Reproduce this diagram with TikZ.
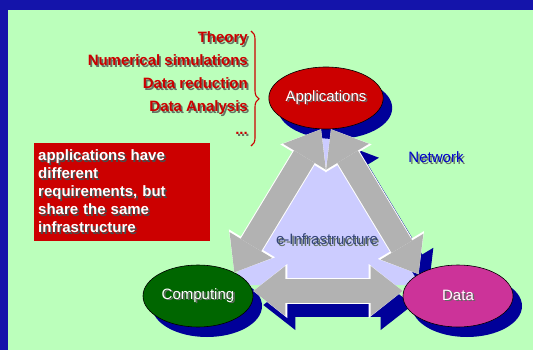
\documentclass[tikz,border=0pt]{standalone}
\usepackage{fontspec}
\setmainfont{Liberation Sans}
\usetikzlibrary{arrows.meta,shapes.geometric,shadows,decorations.pathreplacing}
\definecolor{fondo}{RGB}{187,255,187}
\definecolor{marco}{RGB}{20,20,170}
\definecolor{rojo}{RGB}{204,0,0}
\definecolor{sombra}{RGB}{0,0,153}
\definecolor{lila}{RGB}{204,204,255}
\definecolor{gris}{RGB}{178,178,178}
\definecolor{verde}{RGB}{0,102,0}
\definecolor{rosa}{RGB}{204,51,153}
\definecolor{azul}{RGB}{0,0,204}
\definecolor{pizarra}{RGB}{51,68,119}
\definecolor{sombratexto}{RGB}{100,115,100}
\newcommand\sombreado[3]{\makebox[0pt][l]{\kern1.7pt\raisebox{-1.7pt}{\color{#2}#3}}{\color{#1}#3}}
\pgfdeclarelayer{capa0}
\pgfdeclarelayer{capa1}
\pgfsetlayers{capa0,capa1,main}
\begin{document}
\begin{tikzpicture}[x=1pt,y=-1pt,
  letra/.style={font=\fontsize{15}{18}\selectfont},
  lista/.style={letra,font=\fontsize{15}{18}\selectfont\bfseries,anchor=base east,inner sep=0pt},
  elipse/.style={ellipse,letra,draw=black,line width=.6pt,minimum width=110pt,minimum height=62pt,inner sep=0pt,
    drop shadow={shadow xshift=9pt,shadow yshift=-10pt,fill=sombra,opacity=1}},
  flecha/.style={line width=24pt,draw=gris,
    {Triangle[width=50pt,length=32pt,line width=0pt]}-{Triangle[width=50pt,length=32pt,line width=0pt]}},
  flechaborde/.style={line width=26pt,draw=white,
    {Triangle[width=54pt,length=34pt,line width=0pt]}-{Triangle[width=54pt,length=34pt,line width=0pt]}},
  sombraflecha/.style={flecha,draw=sombra,transform canvas={shift={(10pt,-14pt)}}}]
\useasboundingbox (0,0) rectangle (533,350);
% Lista de aplicaciones
\node[lista] (teoria) at (248,43) {\sombreado{rojo}{sombratexto}{Theory}};
\node[lista] (simul) at (248,66) {\sombreado{rojo}{sombratexto}{Numerical simulations}};
\node[lista] (reduc) at (248,89) {\sombreado{rojo}{sombratexto}{Data reduction}};
\node[lista] (anal) at (248,112) {\sombreado{rojo}{sombratexto}{Data Analysis}};
\node[lista] (puntos) at (248,135) {\sombreado{rojo}{sombratexto}{...}};
\draw[rojo,line width=1.1pt,decorate,decoration={brace,amplitude=8pt,aspect=0.59}] (251,31) -- (251,146);
% Cuadro rojo
\node[anchor=north west,fill=rojo,minimum width=176pt,minimum height=98pt,text width=168pt,inner xsep=4pt,
  align=left,letra,font=\fontsize{15}{18}\selectfont\bfseries] (nota) at (34,143)
  {\sombreado{white}{black!70}{applications have}\\
   \sombreado{white}{black!70}{different}\\
   \sombreado{white}{black!70}{requirements, but}\\
   \sombreado{white}{black!70}{share the same}\\
   \sombreado{white}{black!70}{infrastructure}};
% Textos sueltos
\node[letra,inner sep=0pt] (red) at (436,158) {\sombreado{azul}{sombratexto}{Network}};
% Elipses
\node[elipse,fill=rojo] (app) at (326,98) {\sombreado{white}{black!60}{Applications}};
\node[elipse,fill=verde] (comp) at (198,296) {\sombreado{white}{black!60}{Computing}};
\node[elipse,fill=rosa] (data) at (458,296) {\sombreado{white}{black!60}{Data}};
% Flechas
\draw[flechaborde] ([xshift=-5pt]app.south) -- (comp.33);
\draw[flecha] ([xshift=-5pt]app.south) -- (comp.33);
\draw[flechaborde] ([xshift=5pt]app.south) -- (data.151);
\draw[flecha] ([xshift=5pt]app.south) -- (data.151);
\draw[flechaborde] ([yshift=5pt]comp.east) -- ([yshift=5pt]data.west);
\draw[flecha] ([yshift=5pt]comp.east) -- ([yshift=5pt]data.west);
\node[letra,inner sep=0pt] (infra) at (327,240) {\sombreado{pizarra}{sombratexto}{e-Infrastructure}};
% Sombras y triangulo
\begin{pgfonlayer}{capa1}
\draw[sombraflecha] ([xshift=-5pt]app.south) -- (comp.33);
\draw[sombraflecha] ([xshift=5pt]app.south) -- (data.151);
\draw[sombraflecha] ([yshift=5pt]comp.east) -- ([yshift=5pt]data.west);
\fill[lila] (325,128) -- (230,285) -- (420,285) -- cycle;
\end{pgfonlayer}
% Fondo
\begin{pgfonlayer}{capa0}
\fill[marco] (0,0) rectangle (533,350);
\fill[fondo] (8,10) rectangle (533,350);
\end{pgfonlayer}
\end{tikzpicture}
\end{document}
